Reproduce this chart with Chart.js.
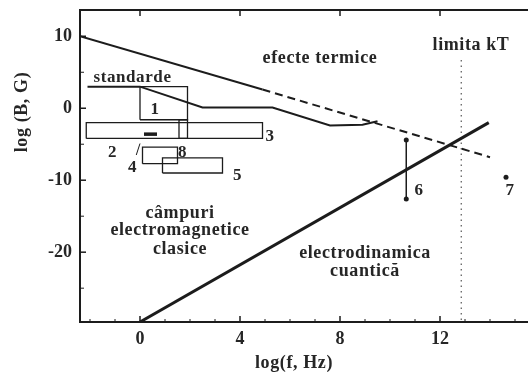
<!DOCTYPE html>
<html lang="ro">
<head>
<meta charset="UTF-8">
<title>log(B, G) in functie de log(f, Hz)</title>
<style>
  html, body { margin: 0; padding: 0; background: #fff; }
  #wrap { width: 528px; height: 380px; }
</style>
</head>
<body>
<div id="wrap"><canvas id="grafic" width="528" height="380"></canvas></div>
<script src="https://cdn.jsdelivr.net/npm/chart.js"></script>
<script>
// axe
const xMin = -2.4, xMax = 15.52;
const yMin = -29.7, yMax = 13.65;
const xTicks = [0, 4, 8, 12];
const yTicks = [-20, -10, 0, 10];
const xMinor = [-2, -1, 1, 2, 3, 5, 6, 7, 9, 10, 11, 13, 14, 15];
const yMinor = [-25, -15, -5, 5];

// linii
const termicX = [-2.4, 4.9];
const termicY = [10.0, 2.6];
const termicDashX = [4.9, 14.0];
const termicDashY = [2.6, -6.8];
const cuanticX = [0, 13.95];
const cuanticY = [-29.7, -2.0];
const standardX = [-2.1, 0, 2.5, 5.3, 7.6, 8.9, 9.5];
const standardY = [3.0, 3.0, 0.1, 0.1, -2.4, -2.3, -1.8];
const kTX = [12.85, 12.85];
const kTY = [6.7, -29.7];

// domenii (cutii)
const cutie1X = [0, 1.9], cutie1Y = [-1.6, 3.0];
const cutie2X = [-2.15, 4.9], cutie2Y = [-4.2, -2.0];
const cutie8X = [1.56, 1.9], cutie8Y = [-4.2, -1.6];
const cutie4X = [0.1, 1.5], cutie4Y = [-7.7, -5.4];
const cutie5X = [0.9, 3.3], cutie5Y = [-9.0, -6.9];
const liniutaX = [0.16, 0.68], liniutaY = [-3.6, -3.6];
const indicator4X = [0.0, -0.15], indicator4Y = [-4.9, -6.5];
const sageata6X = [10.65, 10.65], sageata6Y = [-4.4, -12.6];
const punct7X = [14.64], punct7Y = [-9.6];

// texte
const etichete = ['efecte termice', 'limita kT', 'standarde', '1', '2', '3', '4', '5', '6', '7', '8',
  'câmpuri', 'electromagnetice', 'clasice', 'electrodinamica', 'cuantică'];
const etichetaX = [7.2, 13.24, -0.3, 0.6, -1.1, 5.2, -0.3, 3.9, 11.16, 14.8, 1.7, 1.6, 1.6, 1.6, 9.0, 9.0];
const etichetaY = [7.0, 8.8, 4.2, -0.2, -6.1, -3.9, -8.3, -9.3, -11.4, -11.4, -6.1, -14.6, -16.9, -19.6, -20.1, -22.7];

const serif = '"Liberation Serif", "DejaVu Serif", serif';
const ink = '#1c1c1c';
const textInk = '#262626';

const puncte = (xs, ys) => xs.map((x, i) => ({x: x, y: ys[i]}));
const cutie = (xr, yr) => [
  {x: xr[0], y: yr[0]}, {x: xr[1], y: yr[0]}, {x: xr[1], y: yr[1]},
  {x: xr[0], y: yr[1]}, {x: xr[0], y: yr[0]}
];
const linie = (data, w, extra) => Object.assign({
  data: data, showLine: true, borderColor: ink, borderWidth: w,
  pointRadius: 0, fill: false, tension: 0
}, extra || {});

const textePlugin = {
  id: 'texte',
  afterDatasetsDraw(chart) {
    const {ctx, scales: {x, y}, chartArea} = chart;
    ctx.save();
    ctx.fillStyle = textInk;
    ctx.strokeStyle = ink;

    // chenar sus
    ctx.lineWidth = 2;
    ctx.beginPath();
    ctx.moveTo(chartArea.left - 1, chartArea.top);
    ctx.lineTo(chartArea.right, chartArea.top);
    ctx.stroke();

    // tick-uri interioare
    const tick = (scale, v, len, side) => {
      const p = scale.getPixelForValue(v);
      ctx.beginPath();
      if (side === 'bottom') { ctx.moveTo(p, chartArea.bottom); ctx.lineTo(p, chartArea.bottom - len); }
      if (side === 'top') { ctx.moveTo(p, chartArea.top); ctx.lineTo(p, chartArea.top + len); }
      if (side === 'left') { ctx.moveTo(chartArea.left, p); ctx.lineTo(chartArea.left + len, p); }
      ctx.stroke();
    };
    ctx.lineWidth = 1.5;
    xTicks.forEach(v => { tick(x, v, 6, 'bottom'); tick(x, v, 6, 'top'); });
    yTicks.forEach(v => tick(y, v, 6, 'left'));
    ctx.lineWidth = 1;
    xMinor.forEach(v => tick(x, v, 3, 'bottom'));
    yMinor.forEach(v => tick(y, v, 4, 'left'));

    ctx.textAlign = 'center';
    ctx.textBaseline = 'middle';
    ctx.letterSpacing = '0.6px';
    etichete.forEach((t, i) => {
      const scurt = t.length <= 1;
      ctx.font = 'bold ' + (scurt ? '17px ' : (t === 'standarde' ? '17px ' : '18px ')) + serif;
      ctx.fillText(t, x.getPixelForValue(etichetaX[i]), y.getPixelForValue(etichetaY[i]));
    });

    // titluri axe
    ctx.font = 'bold 18px ' + serif;
    ctx.fillText('log(f, Hz)', 294, 363);
    ctx.translate(22, 112);
    ctx.rotate(-Math.PI / 2);
    ctx.fillText('log (B, G)', 0, 0);
    ctx.restore();
  }
};

new Chart(document.getElementById('grafic'), {
  type: 'scatter',
  data: {
    datasets: [
      linie(puncte(termicX, termicY), 2),
      linie(puncte(termicDashX, termicDashY), 2, {borderDash: [8, 5]}),
      linie(puncte(cuanticX, cuanticY), 3),
      linie(puncte(standardX, standardY), 2),
      linie(puncte(kTX, kTY), 1.2, {borderDash: [1.5, 4], borderColor: '#555'}),
      linie(cutie(cutie1X, cutie1Y), 1.3),
      linie(cutie(cutie2X, cutie2Y), 1.3),
      linie(cutie(cutie8X, cutie8Y), 1.3),
      linie(cutie(cutie4X, cutie4Y), 1.3),
      linie(cutie(cutie5X, cutie5Y), 1.3),
      linie(puncte(liniutaX, liniutaY), 3.5),
      linie(puncte(indicator4X, indicator4Y), 1),
      linie(puncte(sageata6X, sageata6Y), 1.5, {pointRadius: 2.5, pointBackgroundColor: ink, pointBorderWidth: 0}),
      linie(puncte(punct7X, punct7Y), 1, {showLine: false, pointRadius: 2.5, pointBackgroundColor: ink, pointBorderWidth: 0})
    ]
  },
  options: {
    responsive: false,
    animation: false,
    devicePixelRatio: 1,
    layout: {autoPadding: false, padding: {top: 10, left: 0, right: 0, bottom: 0}},
    plugins: {legend: {display: false}, tooltip: {enabled: false}},
    scales: {
      x: {
        type: 'linear', position: 'bottom', min: xMin, max: xMax,
        afterBuildTicks: s => { s.ticks = xTicks.map(v => ({value: v})); },
        afterFit: s => { s.height = 58; s.paddingLeft = 0; s.paddingRight = 0; },
        grid: {display: false, drawTicks: false},
        border: {display: true, width: 2, color: ink},
        ticks: {color: textInk, padding: 8, maxRotation: 0, font: {family: serif, size: 18, weight: 'bold', lineHeight: 1}}
      },
      y: {
        type: 'linear', position: 'left', min: yMin, max: yMax,
        afterBuildTicks: s => { s.ticks = yTicks.map(v => ({value: v})); },
        afterFit: s => { s.width = 80; s.paddingTop = 0; s.paddingBottom = 0; },
        grid: {display: false, drawTicks: false},
        border: {display: true, width: 2, color: ink},
        ticks: {color: textInk, padding: 8, font: {family: serif, size: 18, weight: 'bold', lineHeight: 1}}
      }
    }
  },
  plugins: [textePlugin]
});
</script>
</body>
</html>
